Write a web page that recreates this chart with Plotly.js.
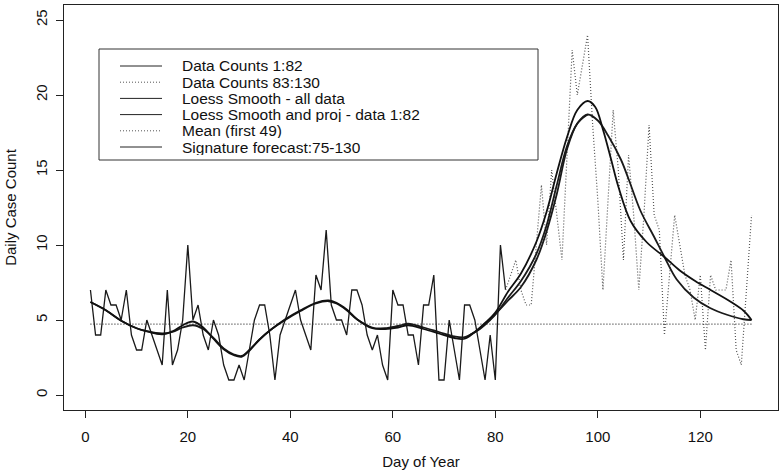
<!DOCTYPE html>
<html>
<head>
<meta charset="utf-8">
<script src="https://cdn.plot.ly/plotly-3.0.1.min.js"></script>
<style>
html,body{margin:0;padding:0;background:#fff;}
#chart{width:781px;height:472px;}
</style>
</head>
<body>
<div id="chart"></div>
<script>
// ---------- data ----------
const countsDays1To82 = [
  7,4,4,7,6,6,5,7,4,3,
  3,5,4,3,2,7,2,3,5,10,
  5,6,4,3,5,4,2,1,1,2,
  1,3,5,6,6,4,1,4,5,6,
  7,5,4,3,8,7,11,6,5,5,
  4,7,7,6,4,3,4,2,1,7,
  6,6,4,4,2,6,6,8,1,1,
  5,3,1,6,6,5,3,1,4,1,
  10,7
];
const countsDays83To130 = [
  8,9,7,6,6,10,14,10,15,12,
  9,16,23,20,22,24,18,13,7,13,
  19,15,9,16,12,7,12,18,12,11,
  4,8,12,10,8,7,5,8,3,8,
  7,7,7,9,3,2,7,12
];
const meanFirst49 = 4.73;
const meanSpanDays = [1, 130];

const loessAllDays = [1,4,7,10,12,15,17,19,21,23,25,27,29,30.5,32,34,36,39,42,45,47.5,49,51,53,56,58.5,61,63,66,69,72,74,76,78,80,82.5,85,88,90,92,94,96,98,99.5,101,102.6,104,106.4,109.5,113,116,119,122,126,128.5,130];
const loessAllVals = [6.2,5.65,4.95,4.45,4.25,4.05,4.25,4.65,4.9,4.5,3.75,3.05,2.65,2.55,2.95,3.7,4.3,5.05,5.65,6.15,6.3,6.15,5.7,5.05,4.45,4.4,4.5,4.65,4.4,4.1,3.8,3.75,4.2,4.8,5.5,6.9,8.1,10.2,12.2,14.8,17.2,19.0,19.6,19.2,17.7,15.7,13.9,11.6,10.2,9.2,8.3,7.6,7.0,6.2,5.6,5.0];

const loess82Days = [1,4,7,10,12,15,17,19,21,23,25,27,29,30.5,32,34,36,39,42,45,47.5,49,51,53,56,58.5,61,63,66,69,72,74,76,78,80,82.5,85,88,90,92,94,96,98];
const loess82Vals = [6.2,5.65,4.95,4.45,4.25,4.1,4.2,4.5,4.65,4.4,3.8,3.1,2.7,2.6,3.0,3.7,4.3,5.0,5.6,6.1,6.25,6.1,5.65,5.05,4.5,4.45,4.6,4.75,4.5,4.2,3.9,3.85,4.2,4.75,5.4,6.3,7.2,9.0,10.9,13.4,16.4,18.1,18.7];

const signatureDays = [75,77,79,80,82.5,85,88,90,92,94,96,98,100,102,104.5,106,108.3,110.9,113,115.4,118.7,121.9,125.2,128.4,130];
const signatureVals = [4.0,4.4,5.0,5.35,6.5,7.6,9.4,11.3,14.0,16.6,18.1,18.7,18.3,17.3,15.7,14.4,12.3,10.6,9.2,7.7,6.5,5.8,5.35,5.05,5.0];

const xTickVals = [0,20,40,60,80,100,120];
const yTickVals = [0,5,10,15,20,25];

const legendLabels = [
  'Data Counts 1:82',
  'Data Counts 83:130',
  'Loess Smooth - all data',
  'Loess Smooth and proj - data 1:82',
  'Mean (first 49)',
  'Signature forecast:75-130'
];
const legendDotted = [false,true,false,false,true,false];

// ---------- build ----------
const days1 = countsDays1To82.map((_, i) => i + 1);
const days2 = countsDays83To130.map((_, i) => i + 83);

const FONT = 'Liberation Sans, Arial, Helvetica, sans-serif';
const DOT = '1px,2px';

const traces = [
  {x: days1, y: countsDays1To82, type:'scatter', mode:'lines', name: legendLabels[0],
   line:{color:'#1a1a1a', width:1.3}},
  {x: [days1[days1.length-1]].concat(days2), y: [countsDays1To82[countsDays1To82.length-1]].concat(countsDays83To130),
   type:'scatter', mode:'lines', name: legendLabels[1],
   line:{color:'#555', width:1.2, dash: DOT}},
  {x: meanSpanDays, y: meanSpanDays.map(() => meanFirst49), type:'scatter', mode:'lines', name: legendLabels[4],
   line:{color:'#333', width:1.2, dash: DOT}},
  {x: loess82Days, y: loess82Vals, type:'scatter', mode:'lines', name: legendLabels[3],
   line:{color:'#1a1a1a', width:1.8, shape:'spline', smoothing:1}},
  {x: signatureDays, y: signatureVals, type:'scatter', mode:'lines', name: legendLabels[5],
   line:{color:'#1a1a1a', width:1.8, shape:'spline', smoothing:1}},
  {x: loessAllDays, y: loessAllVals, type:'scatter', mode:'lines', name: legendLabels[2],
   line:{color:'#111', width:1.8, shape:'spline', smoothing:1}}
];

// plot area geometry (pixels)
const W = 781, H = 472;
const M = {l:64, r:3, t:5, b:62};
const PW = W - M.l - M.r, PH = H - M.t - M.b;
const px2x = px => (px - M.l) / PW;
const py2y = py => (H - M.b - py) / PH;

// manual legend box, as in the reference
const shapes = [
  {type:'rect', xref:'paper', yref:'paper', x0:px2x(99), x1:px2x(538), y0:py2y(160), y1:py2y(49),
   line:{color:'#333', width:1}, fillcolor:'rgba(255,255,255,0)'}
];
const annotations = [];
const rowY0 = 66, rowStep = 16.2;
legendLabels.forEach((lab, i) => {
  const yy = rowY0 + i * rowStep;
  shapes.push({type:'line', xref:'paper', yref:'paper', x0:px2x(120), x1:px2x(162), y0:py2y(yy), y1:py2y(yy),
    line:{color: legendDotted[i] ? '#555' : '#222', width:1, dash: legendDotted[i] ? DOT : 'solid'}});
  annotations.push({xref:'paper', yref:'paper', x:px2x(181), y:py2y(yy), text: lab, showarrow:false,
    xanchor:'left', yanchor:'middle', height:15, valign:'middle', borderpad:0,
    font:{family:FONT, size:15.5, color:'#111'}});
});

const layout = {
  width: W, height: H,
  margin: M,
  paper_bgcolor:'#fff', plot_bgcolor:'#fff',
  showlegend: false,
  font:{family:FONT, size:15, color:'#111'},
  xaxis:{
    range:[-4.16, 135.16], tickvals:xTickVals, ticktext:xTickVals.map(String),
    ticks:'outside', ticklen:7, tickwidth:1, tickcolor:'#222',
    showline:true, mirror:true, linecolor:'#222', linewidth:1,
    showgrid:false, zeroline:false, automargin:false,
    tickfont:{family:FONT, size:15, color:'#111'}, ticklabelstandoff:6,
    title:{text:'Day of Year', font:{family:FONT, size:15, color:'#111'}, standoff:12}
  },
  yaxis:{
    range:[-1, 26], tickvals:yTickVals, ticktext:yTickVals.map(String),
    tickangle:-90,
    ticks:'outside', ticklen:7, tickwidth:1, tickcolor:'#222',
    showline:true, mirror:true, linecolor:'#222', linewidth:1,
    showgrid:false, zeroline:false, automargin:false,
    tickfont:{family:FONT, size:15, color:'#111'}, ticklabelstandoff:3,
    title:{text:'Daily Case Count', font:{family:FONT, size:15, color:'#111'}, standoff:12}
  },
  shapes: shapes,
  annotations: annotations
};

Plotly.newPlot('chart', traces, layout, {displayModeBar:false, staticPlot:true});
</script>
</body>
</html>
